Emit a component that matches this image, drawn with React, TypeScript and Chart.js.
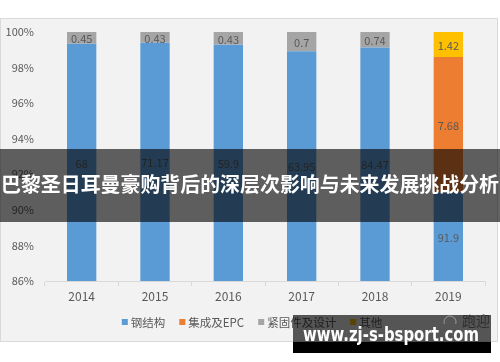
import React, { useEffect, useRef } from "react";
import { Chart, registerables } from "chart.js";

Chart.register(...registerables);

const years = ["2014", "2015", "2016", "2017", "2018", "2019"];
const steelValues = [68, 71.17, 59.9, 63.95, 84.47, 91.9];
const epcValues = [0, 0, 0, 0, 0, 7.68];
const fastenerValues = [0.45, 0.43, 0.43, 0.7, 0.74, 0];
const otherValues = [0, 0, 0, 0, 0, 1.42];
const seriesNames = ["钢结构", "集成及EPC", "紧固件及设计", "其他"];
const seriesColors = ["#5b9bd5", "#ed7d31", "#a5a5a5", "#ffc000"];
const yTicks = [86, 88, 90, 92, 94, 96, 98, 100];
const bannerText = "巴黎圣日耳曼豪购背后的深层次影响与未来发展挑战分析";
const watermarkText = "www.zj-s-bsport.com";
const logoText = "跑迎";

const FONT = '"Noto Sans CJK SC", "Noto Sans", sans-serif';

export default function App() {
  const ref = useRef<HTMLCanvasElement | null>(null);

  useEffect(() => {
    if (!ref.current) return;
    const raw = [steelValues, epcValues, fastenerValues, otherValues];
    const totals = years.map((_, i) => raw.reduce((s, arr) => s + arr[i], 0));
    const pct = raw.map((arr) => arr.map((v, i) => (v / totals[i]) * 100));

    const bgPlugin = {
      id: "bg",
      beforeDraw(chart: any) {
        const { ctx, width, height } = chart;
        ctx.save();
        ctx.fillStyle = "#ffffff";
        ctx.fillRect(0, 0, width, height);
        ctx.fillStyle = "#f2f2f2";
        ctx.fillRect(0.5, 18.5, 497, 323);
        ctx.strokeStyle = "#d9d9d9";
        ctx.lineWidth = 1;
        ctx.strokeRect(0.5, 18.5, 497, 323);
        ctx.restore();
      },
    };

    const labelPlugin = {
      id: "labels",
      afterDatasetsDraw(chart: any) {
        const { ctx, chartArea } = chart;
        ctx.save();
        ctx.font = `11px ${FONT}`;
        ctx.fillStyle = "#595959";
        ctx.textAlign = "center";
        ctx.textBaseline = "middle";
        chart.data.datasets.forEach((ds: any, di: number) => {
          const meta = chart.getDatasetMeta(di);
          meta.data.forEach((el: any, i: number) => {
            const v = raw[di][i];
            if (!v) return;
            const top = Math.max(Math.min(el.y, el.base), chartArea.top);
            const bottom = Math.min(Math.max(el.y, el.base), chartArea.bottom);
            if (bottom <= top) return;
            ctx.fillText(String(v), el.x, (top + bottom) / 2 + 1);
          });
        });
        ctx.restore();
      },
    };

    const legendPlugin = {
      id: "customLegend",
      afterDraw(chart: any) {
        const { ctx } = chart;
        ctx.save();
        ctx.font = `11.5px ${FONT}`;
        ctx.textBaseline = "middle";
        ctx.textAlign = "left";
        const box = 6;
        const gapText = 3;
        const gapItem = 14;
        const widths = seriesNames.map((n) => box + gapText + ctx.measureText(n).width);
        const total = widths.reduce((a, b) => a + b, 0) + gapItem * (seriesNames.length - 1);
        let x = 252 - total / 2;
        const cy = 322;
        seriesNames.forEach((n, i) => {
          ctx.fillStyle = seriesColors[i];
          ctx.fillRect(x, cy - box / 2, box, box);
          ctx.fillStyle = "#595959";
          ctx.fillText(n, x + box + gapText, cy + 0.5);
          x += widths[i] + gapItem;
        });
        ctx.restore();
      },
    };

    const overlayPlugin = {
      id: "overlay",
      afterDraw(chart: any) {
        const { ctx, width } = chart;
        ctx.save();
        // banner
        ctx.fillStyle = "rgba(0,0,0,0.61)";
        ctx.fillRect(0, 149, width, 73);
        ctx.fillStyle = "#ffffff";
        ctx.font = `bold 20px ${FONT}`;
        ctx.textAlign = "center";
        ctx.textBaseline = "middle";
        ctx.fillText(bannerText, 250, 184, 498);
        // watermark
        ctx.fillStyle = "rgba(0,0,0,0.65)";
        ctx.fillRect(293, 315, 198, 27);
        ctx.fillStyle = "#000000";
        ctx.fillRect(293, 342, 198, 11);
        ctx.fillStyle = "rgba(30,30,30,0.7)";
        ctx.font = `14px ${FONT}`;
        ctx.textAlign = "left";
        ctx.fillText(logoText, 462, 321);
        ctx.beginPath();
        ctx.strokeStyle = "rgba(200,200,200,0.6)";
        ctx.arc(450, 322, 6, Math.PI * 0.9, Math.PI * 2.1);
        ctx.stroke();
        ctx.fillStyle = "#ffffff";
        ctx.font = `bold 19px "DejaVu Sans", sans-serif`;
        ctx.textAlign = "center";
        ctx.fillText(watermarkText, 391, 336, 176);
        ctx.restore();
      },
    };

    const chart = new Chart(ref.current, {
      type: "bar",
      data: {
        labels: years,
        datasets: seriesNames.map((name, di) => ({
          label: name,
          data: pct[di],
          backgroundColor: seriesColors[di],
          borderWidth: 0,
          categoryPercentage: 1,
          barPercentage: 0.4,
        })),
      },
      options: {
        animation: false,
        responsive: false,
        devicePixelRatio: 1,
        layout: { padding: { left: 0, right: 15, top: 32, bottom: 57 } },
        plugins: {
          legend: { display: false },
          tooltip: { enabled: false },
        },
        scales: {
          x: {
            stacked: true,
            grid: {
              display: true,
              drawOnChartArea: false,
              drawTicks: true,
              tickLength: 5,
              color: "#d9d9d9",
            },
            border: { display: true, color: "#d9d9d9" },
            ticks: { color: "#595959", font: { size: 12, family: FONT }, padding: 3 },
            afterFit(scale: any) {
              scale.height = 24;
            },
          },
          y: {
            stacked: true,
            min: 86,
            max: 100,
            afterBuildTicks(scale: any) {
              scale.ticks = yTicks.map((v) => ({ value: v }));
            },
            grid: { display: false, drawTicks: false },
            border: { display: false },
            ticks: {
              color: "#595959",
              font: { size: 11, family: FONT },
              padding: 11,
              callback: (v: any) => `${v}%`,
            },
            afterFit(scale: any) {
              scale.width = 45;
            },
          },
        },
      },
      plugins: [bgPlugin, labelPlugin, legendPlugin, overlayPlugin],
    });
    return () => chart.destroy();
  }, []);

  return (
    <div style={{ position: "absolute", left: 0, top: 0, width: 500, height: 362 }}>
      <canvas ref={ref} width={500} height={362} style={{ width: 500, height: 362 }} />
    </div>
  );
}
